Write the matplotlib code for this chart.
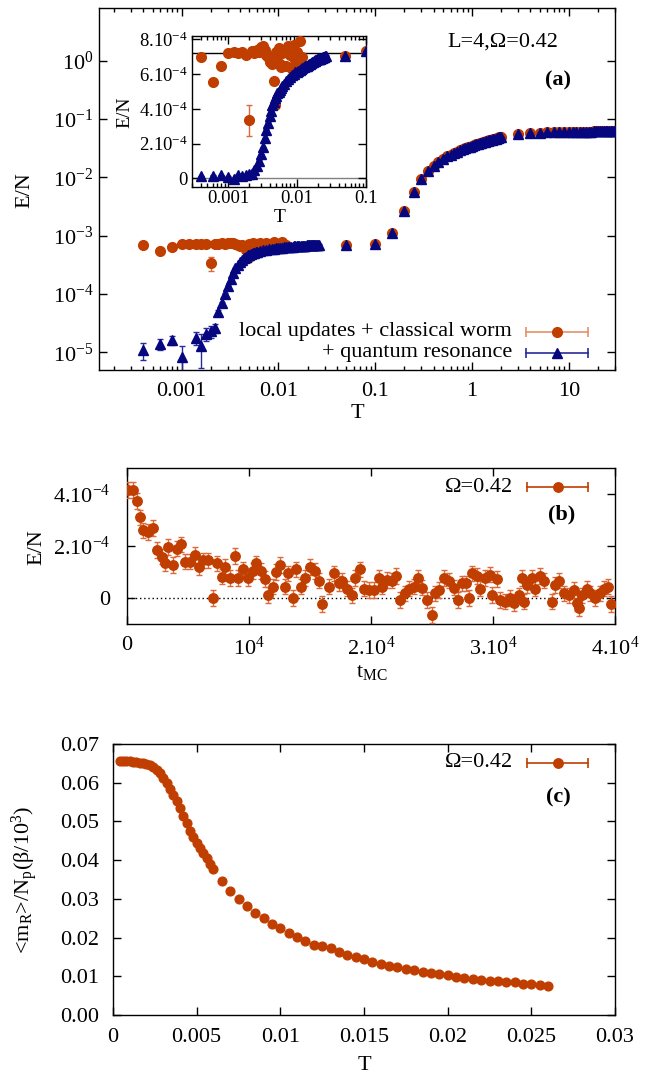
import numpy as np
import matplotlib
matplotlib.use('Agg')
from matplotlib import pyplot as plt
from matplotlib.ticker import FixedLocator, LogLocator, NullLocator, NullFormatter

plt.rcParams['font.family'] = ['Liberation Serif', 'DejaVu Serif']
plt.rcParams['mathtext.fontset'] = 'custom'
plt.rcParams['mathtext.rm'] = 'Liberation Serif'
plt.rcParams['mathtext.it'] = 'Liberation Serif:italic'
plt.rcParams['mathtext.bf'] = 'Liberation Serif:bold'
plt.rcParams['mathtext.default'] = 'regular'
plt.rcParams['axes.linewidth'] = 1.0

ORANGE = '#c03e00'
ORANGE_ERR = '#dd6a3a'
ORANGE_KEY = '#e8906a'
BLUE = '#06067f'
BLUE_ERR = '#2a2a9a'

# ---------------- data: panel (a) ----------------
# temperature grids of the simulation
T_low = np.round(np.arange(0.0004, 0.00601, 0.0002), 4)     # 29 pts
T_mid = np.round(np.arange(0.0065, 0.02601, 0.0005), 4)     # 40 pts
T_hot = [0.05, 0.1, 0.15, 0.2, 0.25]
T_band = np.round(np.arange(0.30, 2.001, 0.05), 2)          # 35 pts
T_high = np.arange(3, 31)                                   # 28 pts

# high temperature part (both algorithms agree)
E_hot = [7.05e-4, 7.35e-4, 1.12e-3, 2.7e-3, 5.7e-3]
E_band = [0.0093, 0.0128, 0.0158, 0.0185, 0.0210, 0.0230, 0.0245, 0.0262,
          0.0277, 0.0291, 0.0304, 0.0316, 0.0327, 0.0338, 0.0349, 0.0359,
          0.0368, 0.0377, 0.0385, 0.0393, 0.0401, 0.0408, 0.0415, 0.0422,
          0.0429, 0.0436, 0.0443, 0.0450, 0.0457, 0.0464, 0.0471, 0.0478,
          0.0485, 0.0492, 0.0500]
E_high = [0.0550, 0.0566, 0.0578, 0.0588, 0.0595, 0.0600, 0.0603, 0.0606,
          0.0608, 0.0609, 0.0610, 0.0610, 0.0611, 0.0611, 0.0611, 0.0612,
          0.0612, 0.0612, 0.0612, 0.0613, 0.0613, 0.0613, 0.0613, 0.0613,
          0.0613, 0.0613, 0.0614, 0.0614]

# local updates + classical worm, low T (T_low + first 12 of T_mid)
E_cw_low = [7.0e-4, 5.55e-4, 6.5e-4, 7.2e-4, 7.25e-4, 7.2e-4, 7.3e-4, 7.1e-4,
            3.35e-4, 7.35e-4, 7.2e-4, 7.4e-4, 7.3e-4, 7.55e-4, 7.6e-4, 7.4e-4,
            7.1e-4, 7.0e-4, 6.7e-4, 6.9e-4, 6.6e-4, 5.6e-4, 4.2e-4, 7.3e-4,
            7.0e-4, 7.5e-4, 6.6e-4, 6.4e-4, 7.2e-4,
            7.4e-4, 6.5e-4, 7.6e-4, 7.1e-4, 6.3e-4, 7.7e-4, 6.8e-4, 7.3e-4,
            6.7e-4, 7.9e-4, 6.6e-4, 7.0e-4]
err_cw_low = [0.1e-4] * 8 + [0.9e-4] + [0.1e-4] * 32

# + quantum resonance, low T (T_low + T_mid)
E_qr_low = [1.1e-5, 1.4e-5, 1.65e-5, 0.85e-5, -0.5e-5, 1.8e-5, 1.3e-5, 2.1e-5,
            2.3e-5, 2.6e-5, 5.0e-5, 7.0e-5, 1.0e-4, 1.4e-4, 1.8e-4, 2.3e-4,
            2.8e-4, 3.2e-4, 3.6e-4, 3.9e-4, 4.2e-4, 4.4e-4, 4.6e-4, 4.75e-4,
            4.9e-4, 5.0e-4, 5.1e-4, 5.2e-4, 5.3e-4,
            5.45e-4, 5.6e-4, 5.75e-4, 5.85e-4, 5.95e-4, 6.0e-4, 6.1e-4, 6.15e-4,
            6.2e-4, 6.25e-4, 6.3e-4, 6.35e-4, 6.4e-4, 6.45e-4, 6.5e-4, 6.5e-4,
            6.55e-4, 6.6e-4, 6.6e-4, 6.65e-4, 6.7e-4, 6.7e-4, 6.75e-4, 6.75e-4,
            6.8e-4, 6.8e-4, 6.85e-4, 6.85e-4, 6.9e-4, 6.9e-4, 6.9e-4, 6.95e-4,
            6.95e-4, 6.95e-4, 7.0e-4, 7.0e-4, 7.0e-4, 7.0e-4, 7.05e-4, 7.05e-4]
err_qr_low = [0.35e-5, 0.3e-5, 0.3e-5, 0.45e-5, 0.5e-5, 0.45e-5, 0.75e-5,
              0.5e-5, 0.5e-5, 0.45e-5] + [0.3e-5] * 59

E_ref = 7.2e-4   # horizontal line in the inset

# ---------------- data: panel (b) ----------------
t_mc = [100, 520, 790, 1070, 1340, 1750, 2160, 2430, 2840, 3110,
        3390, 3800, 4070, 4400, 4750, 5160, 5570, 5900, 6250, 6660,
        7070, 7340, 7750, 8020, 8430, 8840, 9110, 9520, 9930, 10340,
        10610, 11020, 11300, 11570, 11930, 12250, 12520, 12930, 13200, 13610,
        13880, 14290, 14560, 14970, 15370, 15720, 16000, 16530, 16940, 17340,
        17620, 18030, 18440, 18710, 19120, 19400, 19800, 20210, 20620, 20900,
        21300, 21700, 22050, 22400, 22810, 23140, 23500, 23850, 24180, 24590,
        25000, 25270, 25550, 25960, 26370, 26780, 27130, 27460, 27820, 28000,
        28280, 28690, 28960, 29370, 29780, 29920, 30330, 30600, 31010, 31420,
        31690, 32100, 32380, 32510, 32790, 33200, 33470, 33880, 34150, 34840,
        35110, 35380, 35790, 36200, 36610, 36880, 37020, 37290, 37700, 37980,
        38390, 38800, 39070, 39430, 39700]
E_mc = [4.15, 4.15, 3.74, 3.1, 2.6, 2.55, 2.7, 1.85, 1.59, 1.33,
        1.97, 1.27, 1.9, 2.06, 1.4, 1.4, 1.65, 1.2, 1.45, 1.45,
        0.0, 1.33, 0.82, 1.2, 0.78, 1.62, 0.78, 1.1, 0.78, 1.05,
        1.33, 1.05, 0.72, 0.12, 0.44, 1.0, 1.27, 0.44, 0.95, 0.0,
        1.1, 0.44, 0.78, 1.2, 1.05, 0.67, -0.24, 0.44, 0.95, 0.56,
        0.67, 0.36, 0.1, 0.78, 1.1, 0.36, 0.3, 0.3, 0.78, 0.44,
        0.7, 0.67, 0.85, -0.08, 0.18, 0.36, 0.44, 0.78, 0.4, -0.08,
        -0.65, 0.18, 0.3, 0.78, 0.67, 0.4, -0.08, 0.56, 0.56, 0.0,
        0.95, 0.85, 0.36, 0.78, 0.9, 0.12, 0.72, -0.08, -0.14, 0.0,
        -0.2, 0.1, 0.78, -0.14, 0.5, 0.78, 0.36, 0.85, 0.67, -0.14,
        0.5, 0.67, 0.18, 0.1, 0.3, -0.2, -0.4, 0.1, 0.36, 0.18,
        0.0, 0.18, 0.36, 0.44, -0.24]    # units of 1e-4
E_mc_err = 0.3                           # units of 1e-4

# ---------------- data: panel (c) ----------------
mR = [0.0656, 0.0656, 0.0655, 0.0655, 0.0654, 0.0653, 0.0652, 0.0651,
      0.0649, 0.0646, 0.0641, 0.0634, 0.0624, 0.0612, 0.0599, 0.0585,
      0.0569, 0.0552, 0.0534, 0.0515, 0.0495, 0.0476, 0.0459, 0.0444,
      0.0431, 0.0418, 0.0405, 0.0391, 0.0376,
      0.0346, 0.0321, 0.0299, 0.0282, 0.0264, 0.0250, 0.0236, 0.0224,
      0.0212, 0.0202, 0.0192, 0.0182, 0.0177, 0.0172, 0.0164, 0.0155,
      0.0149, 0.0144, 0.0138, 0.0132, 0.0127, 0.0123, 0.0119, 0.0115,
      0.0110, 0.0108, 0.0105, 0.0103, 0.0099, 0.0096, 0.0094, 0.0091,
      0.0089, 0.0087, 0.0085, 0.0084, 0.0081, 0.0079, 0.0078, 0.0076]
mR_err = 0.0001

# ---------------- assemble series ----------------
T_cw = np.concatenate([T_low, T_mid[:12], T_hot, T_band, T_high])
E_cw = np.concatenate([E_cw_low, E_hot, E_band, E_high])
err_cw = np.concatenate([err_cw_low, np.zeros(len(E_hot) + len(E_band) + len(E_high))])
T_qr = np.concatenate([T_low, T_mid, T_hot, T_band, T_high])
E_qr = np.concatenate([E_qr_low, E_hot, E_band, E_high])
err_qr = np.concatenate([err_qr_low, np.zeros(len(E_hot) + len(E_band) + len(E_high))])
T_c = np.concatenate([T_low, T_mid])

W, H = 652, 1078
fig = plt.figure(figsize=(W / 100, H / 100), dpi=100)


def box(x0, y0, x1, y1):
    """pixel box (top-left origin) -> figure fraction rect"""
    return [x0 / W, 1 - y1 / H, (x1 - x0) / W, (y1 - y0) / H]


def ftext(x, y, s, **kw):
    fig.text(x / W, 1 - y / H, s, ha='center', va='center', **kw)


def style(ax, fs=16, pad=9, ypad=9):
    ax.tick_params(which='both', direction='in', top=True, right=True,
                   labelsize=fs, width=1.0)
    ax.tick_params(which='major', length=6)
    ax.tick_params(which='minor', length=3)
    ax.tick_params(axis='x', pad=pad)
    ax.tick_params(axis='y', pad=ypad)


def key(ax, y, label, color, ecolor, marker, ms, xt=0.80, x0=0.828, x1=0.947):
    xm = (x0 + x1) / 2
    tr = ax.transAxes
    ax.plot([x0, x1], [y, y], color=ecolor, lw=1.2, transform=tr)
    ax.plot([x0, x1], [y, y], ls='none', marker='|', ms=7, mew=1.2,
            color=ecolor, transform=tr)
    ax.plot([xm], [y], ls='none', marker=marker, ms=ms, color=color, transform=tr)
    ax.text(xt, y, label, ha='right', va='center', fontsize=16, transform=tr)


def draw_E(ax, ms):
    ax.errorbar(T_cw, E_cw, yerr=err_cw, fmt='o', ms=ms, color=ORANGE,
                mec=ORANGE, ecolor=ORANGE_ERR, elinewidth=1.0, capsize=2.5,
                capthick=1.0, zorder=3)
    ax.errorbar(T_qr, E_qr, yerr=err_qr, fmt='^', ms=ms + 0.6, color=BLUE,
                mec=BLUE, ecolor=BLUE_ERR, elinewidth=1.0, capsize=2.5,
                capthick=1.0, zorder=4)


# ---------------- panel (a) ----------------
axA = fig.add_axes(box(99, 8, 615, 370))
axA.set_xscale('log')
axA.set_yscale('log', nonpositive='mask')
draw_E(axA, 7.0)
axA.set_xlim(1.4e-4, 30)
axA.set_ylim(5e-6, 8)
axA.xaxis.set_major_locator(FixedLocator([1e-3, 1e-2, 1e-1, 1, 10]))
axA.set_xticklabels(['0.001', '0.01', '0.1', '1', '10'])
axA.xaxis.set_minor_locator(LogLocator(base=10, subs=np.arange(2, 10)))
axA.xaxis.set_minor_formatter(NullFormatter())
axA.yaxis.set_major_locator(FixedLocator([1e-5, 1e-4, 1e-3, 1e-2, 1e-1, 1]))
axA.set_yticklabels(['$10^{-5}$', '$10^{-4}$', '$10^{-3}$', '$10^{-2}$',
                     '$10^{-1}$', '$10^{0}$'])
axA.yaxis.set_minor_locator(NullLocator())
style(axA, ypad=4)
axA.text(0.783, 0.906, 'L=4,Ω=0.42', ha='center', va='center', fontsize=16,
         transform=axA.transAxes)
axA.text(0.89, 0.80, '(a)', ha='center', va='center', fontsize=16,
         fontweight='bold', transform=axA.transAxes)
key(axA, 0.105, 'local updates + classical worm', ORANGE, ORANGE_KEY, 'o', 7.0)
key(axA, 0.047, '+ quantum resonance', BLUE, BLUE_ERR, '^', 7.6)
ftext(25, 190, 'E/N', fontsize=16, rotation=90)
ftext(357, 414, 'T', fontsize=16)

# inset
axI = fig.add_axes(box(192, 36, 366, 187))
axI.set_xscale('log')
axI.set_facecolor('white')
axI.axhline(0, color='#808080', lw=1.0, zorder=1)
axI.axhline(E_ref, color='black', lw=1.0, zorder=1)
draw_E(axI, 7.0)
axI.set_xlim(3e-4, 0.1)
axI.set_ylim(-0.5e-4, 8.2e-4)
axI.xaxis.set_major_locator(FixedLocator([1e-3, 1e-2, 1e-1]))
axI.set_xticklabels(['0.001', '0.01', '0.1'])
axI.xaxis.set_minor_locator(LogLocator(base=10, subs=np.arange(2, 10)))
axI.xaxis.set_minor_formatter(NullFormatter())
axI.yaxis.set_major_locator(FixedLocator([0, 2e-4, 4e-4, 6e-4, 8e-4]))
axI.set_yticklabels(['0', '$2.10^{-4}$', '$4.10^{-4}$', '$6.10^{-4}$', '$8.10^{-4}$'])
axI.yaxis.set_minor_locator(NullLocator())
style(axI, fs=13.5, pad=2, ypad=3)
ftext(125, 112, 'E/N', fontsize=14, rotation=90)
ftext(280, 218, 'T', fontsize=14)

# ---------------- panel (b) ----------------
axB = fig.add_axes(box(127, 468, 615, 624))
axB.axhline(0, color='black', lw=1.0, ls=(0, (1, 2)), zorder=1)
axB.errorbar(t_mc, np.array(E_mc) * 1e-4, yerr=E_mc_err * 1e-4, fmt='o', ms=6.8,
             color=ORANGE, mec=ORANGE, ecolor=ORANGE_ERR, elinewidth=1.0,
             capsize=2.5, capthick=1.0, zorder=3)
axB.set_xlim(0, 4e4)
axB.set_ylim(-1e-4, 5e-4)
axB.xaxis.set_major_locator(FixedLocator([0, 1e4, 2e4, 3e4, 4e4]))
axB.set_xticklabels(['0', '$10^{4}$', '$2.10^{4}$', '$3.10^{4}$', '$4.10^{4}$'])
axB.yaxis.set_major_locator(FixedLocator([0, 2e-4, 4e-4]))
axB.set_yticklabels(['0', '$2.10^{-4}$', '$4.10^{-4}$'])
style(axB, ypad=12)
key(axB, 0.878, 'Ω=0.42', ORANGE, ORANGE, 'o', 6.8, xt=0.791, x0=0.82, x1=0.945)
axB.text(0.89, 0.70, '(b)', ha='center', va='center', fontsize=16,
         fontweight='bold', transform=axB.transAxes)
ftext(37, 547, 'E/N', fontsize=16, rotation=90)
ftext(372, 672, 't$_{MC}$', fontsize=16)

# ---------------- panel (c) ----------------
axC = fig.add_axes(box(113, 744, 615, 1015))
axC.errorbar(T_c, mR, yerr=mR_err, fmt='o', ms=6.3, color=ORANGE, mec=ORANGE,
             ecolor=ORANGE_ERR, elinewidth=1.0, capsize=2.0, zorder=3)
axC.set_xlim(0, 0.03)
axC.set_ylim(0, 0.07)
axC.xaxis.set_major_locator(FixedLocator([0, 0.005, 0.01, 0.015, 0.02, 0.025, 0.03]))
axC.set_xticklabels(['0', '0.005', '0.01', '0.015', '0.02', '0.025', '0.03'])
axC.yaxis.set_major_locator(FixedLocator(np.arange(0, 0.0701, 0.01)))
axC.set_yticklabels(['0.00', '0.01', '0.02', '0.03', '0.04', '0.05', '0.06', '0.07'])
style(axC, ypad=10)
key(axC, 0.93, 'Ω=0.42', ORANGE, ORANGE, 'o', 6.8, xt=0.797, x0=0.825, x1=0.946)
axC.text(0.888, 0.804, '(c)', ha='center', va='center', fontsize=16,
         fontweight='bold', transform=axC.transAxes)
ftext(25, 880, '<m$_R$>/N$_p$(β/10$^3$)', fontsize=16, rotation=90)
ftext(364, 1066, 'T', fontsize=16)

fig.savefig('out.png', dpi=100)
